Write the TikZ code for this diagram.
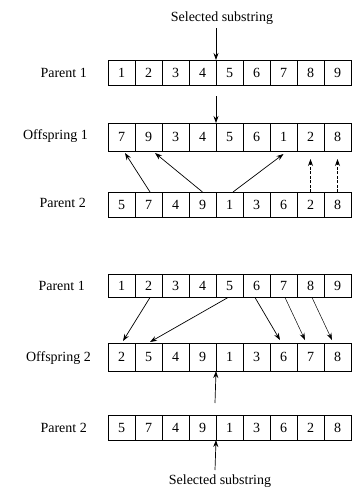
\documentclass[tikz,border=0pt]{standalone}
\usepackage{fontspec}
\setmainfont{Liberation Serif}
\usetikzlibrary{arrows.meta}
\begin{document}
\begin{tikzpicture}[x=1pt,y=-1pt,
  cell/.style={draw, line width=0.8pt, minimum width=27pt, minimum height=25pt, inner sep=0pt, outer sep=0pt, font=\fontsize{14}{14}\selectfont},
  tall/.style={minimum height=28pt},
  lbl/.style={font=\fontsize{14}{16}\selectfont, anchor=east, inner sep=0pt},
  sel/.style={font=\fontsize{14}{16}\selectfont, inner sep=1pt},
  arr/.style={-{Stealth[length=7pt,width=5pt]}, line width=0.7pt},
  darr/.style={arr, dashed, dash pattern=on 3pt off 1.5pt}]
\useasboundingbox (0,0) rectangle (357,491);
% top half
\node[sel] (sel1) at (222,18) {Selected substring};
\foreach \v [count=\i] in {1,2,3,4,5,6,7,8,9}
  \node[cell] (pa\i) at ({108+27*(\i-0.5)},72.5) {\v};
\foreach \v [count=\i] in {7,9,3,4,5,6,1,2,8}
  \node[cell,tall] (oa\i) at ({108+27*(\i-0.5)},137) {\v};
\foreach \v [count=\i] in {5,7,4,9,1,3,6,2,8}
  \node[cell] (pb\i) at ({108+27*(\i-0.5)},204.5) {\v};
\node[lbl] (lpa) at (87,72.5) {Parent 1};
\node[lbl] (loa) at (88,136) {Offspring 1};
\node[lbl] (lpb) at (86,203) {Parent 2};
\coordinate (t1) at (216,28);
\coordinate (t2) at (216,96);
\draw[arr] (t1) -- (pa4.north east);
\draw[arr] (t2) -- (oa4.north east);
\draw[arr] ([xshift=1.5pt]pb2.north) -- ([xshift=3.5pt,yshift=-2pt]oa1.south);
\draw[arr] (pb4.north) -- ([xshift=6.5pt,yshift=-2pt]oa2.south);
\draw[arr] ([xshift=3.5pt]pb5.north) -- ([yshift=-3pt]oa7.south);
\draw[darr, shorten >=8pt] (pb8.north) -- (oa8.south);
\draw[darr, shorten >=8pt] (pb9.north) -- (oa9.south);
% bottom half
\foreach \v [count=\i] in {1,2,3,4,5,6,7,8,9}
  \node[cell,minimum height=23pt] (pc\i) at ({108+27*(\i-0.5)},286) {\v};
\foreach \v [count=\i] in {2,5,4,9,1,3,6,7,8}
  \node[cell,tall] (oc\i) at ({108+27*(\i-0.5)},357) {\v};
\foreach \v [count=\i] in {5,7,4,9,1,3,6,2,8}
  \node[cell] (pd\i) at ({108+27*(\i-0.5)},427.5) {\v};
\node[lbl] (lpc) at (85,286) {Parent 1};
\node[lbl] (loc) at (91,358) {Offspring 2};
\node[lbl] (lpd) at (87,428) {Parent 2};
\draw[arr] ([xshift=1.5pt]pc2.south) -- ([xshift=1.5pt,yshift=2pt]oc1.north);
\draw[arr] ([xshift=-1.5pt]pc5.south) -- ([xshift=1.5pt,yshift=1pt]oc2.north);
\draw[arr] ([xshift=-1.5pt]pc6.south) -- ([xshift=-3.5pt,yshift=3pt]oc7.north);
\draw[arr, line width=0.5pt] ([xshift=1.5pt]pc7.south) -- ([xshift=-5.5pt,yshift=3pt]oc8.north);
\draw[arr, line width=0.5pt] ([xshift=1.5pt]pc8.south) -- ([xshift=-5.5pt,yshift=3pt]oc9.north);
\coordinate (b1) at (215,403);
\coordinate (b2) at (215,470);
\draw[arr] (b1) -- (oc4.south east);
\draw[arr] (b2) -- (pd4.south east);
\node[sel] (sel2) at (220,481) {Selected substring};
\end{tikzpicture}
\end{document}
